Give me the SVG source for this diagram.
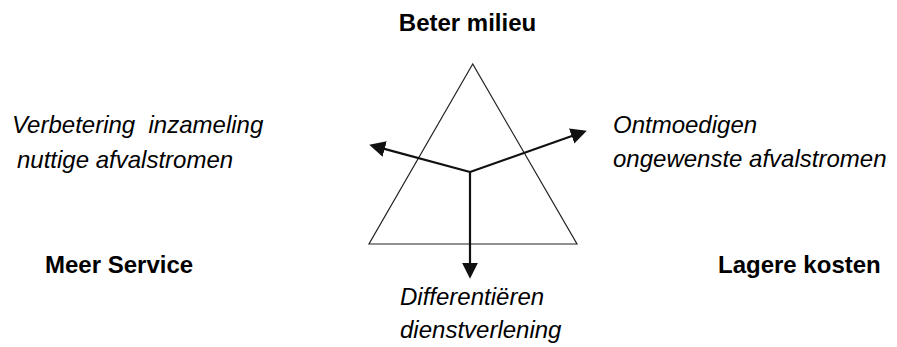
<svg xmlns="http://www.w3.org/2000/svg" width="897" height="347" viewBox="0 0 897 347">
<style>
.b{font-family:"Liberation Sans",Arial,sans-serif;font-size:24px;font-weight:bold;fill:#000}
.i{font-family:"Liberation Sans",Arial,sans-serif;font-size:24px;font-style:italic;fill:#000}
.tri{fill:none;stroke:#222;stroke-width:1.2}
.arr{fill:none;stroke:#111;stroke-width:2.2;marker-end:url(#ah)}
</style>
<defs>
<marker id="ah" markerUnits="userSpaceOnUse" markerWidth="16" markerHeight="16" refX="3" refY="7.5" orient="auto" viewBox="0 0 15 15">
<path d="M0,0 L15,7.5 L0,15 z" fill="#111"/>
</marker>
</defs>
<rect width="897" height="347" fill="#fff"/>
<g id="triangle">
<polygon class="tri" points="472.7,64 369,244 577,244"/>
</g>
<g id="connectors">
<line class="arr" x1="470" y1="172" x2="381.6" y2="148.1"/>
<line class="arr" x1="470" y1="172" x2="574.7" y2="135"/>
<line class="arr" x1="470" y1="171" x2="470" y2="266"/>
</g>
<g id="beter-milieu"><text class="b" x="467.5" y="31" text-anchor="middle">Beter milieu</text></g>
<g id="meer-service"><text class="b" x="45" y="273">Meer Service</text></g>
<g id="lagere-kosten"><text class="b" x="718" y="273">Lagere kosten</text></g>
<g id="verbetering"><text class="i" x="12" y="133" xml:space="preserve">Verbetering  inzameling</text><text class="i" x="17" y="168">nuttige afvalstromen</text></g>
<g id="ontmoedigen"><text class="i" x="613" y="133">Ontmoedigen</text><text class="i" x="613" y="167">ongewenste afvalstromen</text></g>
<g id="differentieren"><text class="i" x="400" y="305">Differentiëren</text><text class="i" x="400" y="338">dienstverlening</text></g>
</svg>
